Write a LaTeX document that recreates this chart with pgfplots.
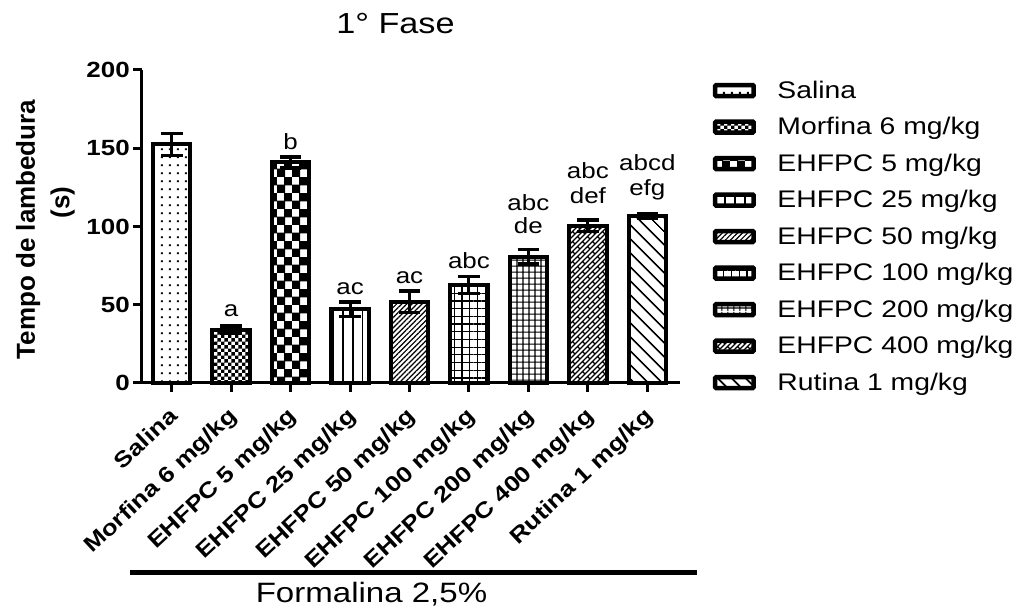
\documentclass[border=0pt]{standalone}
\usepackage{fontspec}
\setmainfont{Liberation Sans}[FakeStretch=1.18]
\newfontfamily\ylabfont{Liberation Sans}
\usepackage{pgfplots}
\pgfplotsset{compat=1.18}
\usetikzlibrary{patterns,patterns.meta}
\tikzset{annot/.style={anchor=base, font=\fontsize{22}{25}\selectfont, inner sep=0pt}}

\pgfdeclarepatternformonly{sdots}{\pgfqpoint{0pt}{0pt}}{\pgfqpoint{7.5pt}{8pt}}{\pgfqpoint{7.5pt}{8pt}}{%
  \pgfpathrectangle{\pgfqpoint{3pt}{3.2pt}}{\pgfqpoint{2.1pt}{2.1pt}}\pgfusepath{fill}}
\pgfdeclarepatternformonly{checkS}{\pgfqpoint{0pt}{0pt}}{\pgfqpoint{7.4pt}{7.4pt}}{\pgfqpoint{7.4pt}{7.4pt}}{%
  \pgfpathrectangle{\pgfqpoint{0pt}{0pt}}{\pgfqpoint{3.7pt}{3.7pt}}%
  \pgfpathrectangle{\pgfqpoint{3.7pt}{3.7pt}}{\pgfqpoint{3.7pt}{3.7pt}}\pgfusepath{fill}}
\pgfdeclarepatternformonly{checkL}{\pgfqpoint{0pt}{0pt}}{\pgfqpoint{14.6pt}{16pt}}{\pgfqpoint{14.6pt}{16pt}}{%
  \pgfpathrectangle{\pgfqpoint{0pt}{0pt}}{\pgfqpoint{8.3pt}{8.8pt}}%
  \pgfpathrectangle{\pgfqpoint{7.3pt}{8pt}}{\pgfqpoint{8.3pt}{8.8pt}}\pgfusepath{fill}}
\pgfdeclarepatternformonly{herring}{\pgfqpoint{-1pt}{-1pt}}{\pgfqpoint{11pt}{11pt}}{\pgfqpoint{10pt}{10pt}}{%
  \pgfsetlinewidth{1.2pt}%
  \pgfpathmoveto{\pgfqpoint{0pt}{0pt}}\pgfpathlineto{\pgfqpoint{10pt}{10pt}}%
  \pgfpathmoveto{\pgfqpoint{5pt}{0pt}}\pgfpathlineto{\pgfqpoint{10pt}{5pt}}%
  \pgfpathmoveto{\pgfqpoint{0pt}{5pt}}\pgfpathlineto{\pgfqpoint{5pt}{10pt}}%
  \pgfpathmoveto{\pgfqpoint{2.5pt}{7.5pt}}\pgfpathlineto{\pgfqpoint{5pt}{5pt}}%
  \pgfpathmoveto{\pgfqpoint{7.5pt}{2.5pt}}\pgfpathlineto{\pgfqpoint{10pt}{0pt}}%
  \pgfusepath{stroke}}

\begin{document}
\begin{tikzpicture}
\useasboundingbox (-142pt,-226pt) rectangle (876pt,383pt);
\begin{axis}[
  scale only axis, width=538pt, height=313pt,
  xmin=-0.5, xmax=8.55, ymin=0, ymax=200,
  axis x line*=bottom, axis y line*=left,
  axis line style={-, line width=3pt, black},
  ytick={0,50,100,150,200},
  xtick={0,1,2,3,4,5,6,7,8},
  xticklabels={Salina, Morfina 6 mg/kg, EHFPC 5 mg/kg, EHFPC 25 mg/kg, EHFPC 50 mg/kg, EHFPC 100 mg/kg, EHFPC 200 mg/kg, EHFPC 400 mg/kg, Rutina 1 mg/kg},
  tick align=outside, major tick length=9pt,
  major tick style={black, line width=3pt},
  /pgf/number format/assume math mode=true,
  yticklabel style={font=\bfseries\fontsize{22}{26}\selectfont, inner sep=0pt, xshift=-3pt},
  xticklabel style={font=\bfseries\fontsize{22}{26}\selectfont, inner sep=0pt, text height=16pt, text depth=4.6pt, anchor=base east, xshift=7pt, yshift=-26pt, rotate=43},
  ybar, bar width=0.63, bar shift=0pt,
  clip=false,
  legend style={draw=none, fill=none, inner sep=0pt, outer sep=0pt, at={(1.0612,0.964)}, anchor=north west,
    row sep=14.5pt, column sep=21.5pt, font=\fontsize{24}{28}\selectfont,
    nodes={inner sep=0pt, text height=17pt, text depth=5pt}},
  legend cell align=left,
  legend image code/.code={\draw[#1, line width=4.5pt, rounded corners=1pt] (2.25pt,-3.75pt) rectangle (40.75pt,7.15pt);},
  mybar/.style={draw=black, line width=4pt, bar shift=0pt,
    error bars/y dir=both, error bars/y explicit,
    error bars/error bar style={line width=3pt, black, solid},
    error bars/error mark options={line width=3.5pt, black, mark size=10.8pt, rotate=90}},
]
\addplot[mybar, pattern=sdots] coordinates {(0,152.5) +- (0,7)};
\addlegendentry{Salina}
\addplot[mybar, pattern=checkS] coordinates {(1,34) +- (0,2.4)};
\addlegendentry{Morfina 6 mg/kg}
\addplot[mybar, pattern=checkL] coordinates {(2,141) +- (0,3.5)};
\addlegendentry{EHFPC 5 mg/kg}
\addplot[mybar, pattern={Lines[angle=90,distance=9.8pt,line width=1.5pt]}] coordinates {(3,47) +- (0,4.6)};
\addlegendentry{EHFPC 25 mg/kg}
\addplot[mybar, pattern={Lines[angle=45,distance=3.6pt,line width=1.2pt]}] coordinates {(4,52) +- (0,6.9)};
\addlegendentry{EHFPC 50 mg/kg}
\addplot[mybar, pattern={Hatch[distance=7.7pt,line width=1.2pt]}] coordinates {(5,62.6) +- (0,5.3)};
\addlegendentry{EHFPC 100 mg/kg}
\addplot[mybar, pattern={Hatch[distance=6.4pt,line width=1.2pt]}] coordinates {(6,80.7) +- (0,4.7)};
\addlegendentry{EHFPC 200 mg/kg}
\addplot[mybar, pattern=herring] coordinates {(7,100.5) +- (0,3.7)};
\addlegendentry{EHFPC 400 mg/kg}
\addplot[mybar, pattern={Lines[angle=-45,distance=10.5pt,line width=2pt]}] coordinates {(8,106.7) +- (0,1.7)};
\addlegendentry{Rutina 1 mg/kg}

\node[annot] at (axis cs:1,42.4) {a};
\node[annot] at (axis cs:2,149.3) {b};
\node[annot] at (axis cs:3,56.7) {ac};
\node[annot] at (axis cs:4,63.3) {ac};
\node[annot] at (axis cs:5,73.3) {abc};
\node[annot] at (axis cs:6,110.5) {abc};
\node[annot] at (axis cs:6,95.7) {de};
\node[annot] at (axis cs:7,130.8) {abc};
\node[annot] at (axis cs:7,114.8) {def};
\node[annot] at (axis cs:8,135.5) {abcd};
\node[annot] at (axis cs:8,120.1) {efg};
\end{axis}
\node[anchor=base, font=\fontsize{29}{34}\selectfont, inner sep=0pt] at (253.5pt,349.7pt) {1° Fase};
\node[rotate=90, anchor=base, inner sep=0pt, font=\ylabfont\bfseries\fontsize{26}{30}\selectfont] at (-107pt,153.5pt) {Tempo de lambedura};
\node[rotate=90, anchor=base, inner sep=0pt, font=\ylabfont\bfseries\fontsize{26}{30}\selectfont] at (-72.7pt,180.3pt) {(s)};
\draw[line width=4.5pt] (-12pt,-189.7pt) -- (555pt,-189.7pt);
\node[anchor=base, font=\fontsize{28}{32}\selectfont, inner sep=0pt] at (229.5pt,-220pt) {Formalina 2,5\%};
\end{tikzpicture}
\end{document}
